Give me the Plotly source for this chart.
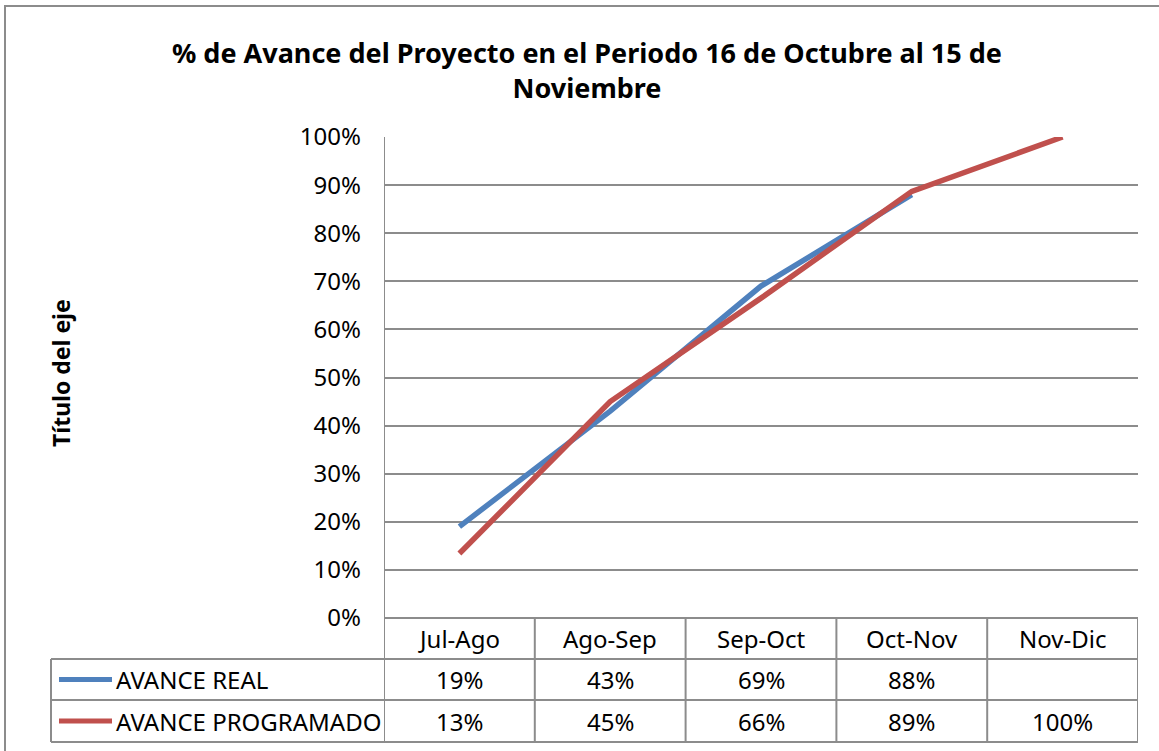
import plotly.graph_objects as go

# data
periodos = ["Jul-Ago", "Ago-Sep", "Sep-Oct", "Oct-Nov", "Nov-Dic"]
avance_real = [0.19, 0.43, 0.69, 0.88, None]
avance_programado = [0.134, 0.45, 0.665, 0.887, 1.00]
etiquetas_real = ["19%", "43%", "69%", "88%", ""]
etiquetas_programado = ["13%", "45%", "66%", "89%", "100%"]

titulo = "% de Avance del Proyecto en el Periodo 16 de Octubre al 15 de<br>Noviembre"
titulo_eje = "Título del eje"

W, H = 1159, 751
FONT = "Noto Sans, Open Sans, Liberation Sans, sans-serif"
GRID = "#8c8c8c"
AZUL = "#4F81BD"
ROJO = "#C0504D"


# pixel helpers for the layout (paper coords)
def px(x):
    return x / W


def py(y):
    return 1 - y / H


plot_l, plot_r, plot_t, plot_b = 384, 1138, 137, 618
row_lines = [618, 659, 700, 742]
table_l = 51
TXT = 24

fig = go.Figure()

series = [("AVANCE REAL", avance_real, AZUL, etiquetas_real),
          ("AVANCE PROGRAMADO", avance_programado, ROJO, etiquetas_programado)]

for name, vals, col, _ in series:
    fig.add_trace(go.Scatter(
        x=list(range(len(periodos))), y=vals,
        mode="lines", name=name,
        line=dict(color=col, width=5.5),
        connectgaps=False, showlegend=False,
    ))

shapes = []
annotations = []

# outer chart border
shapes.append(dict(type="rect", xref="paper", yref="paper",
                   x0=px(5), x1=px(W + 5), y0=py(H + 5), y1=py(6),
                   line=dict(color=GRID, width=2)))

# table horizontal lines
shapes.append(dict(type="line", xref="paper", yref="paper",
                   x0=px(plot_l), x1=px(plot_r), y0=py(row_lines[0]), y1=py(row_lines[0]),
                   line=dict(color=GRID, width=2)))
for yl in row_lines[1:]:
    shapes.append(dict(type="line", xref="paper", yref="paper",
                       x0=px(table_l), x1=px(plot_r), y0=py(yl), y1=py(yl),
                       line=dict(color=GRID, width=2)))
# table vertical lines (category boundaries)
for i in range(len(periodos) + 1):
    shapes.append(dict(type="line", xref="x", yref="paper",
                       x0=i - 0.5, x1=i - 0.5,
                       y0=py(row_lines[-1]), y1=py(plot_t if i == 0 else row_lines[0]),
                       line=dict(color=GRID, width=2)))
shapes.append(dict(type="line", xref="paper", yref="paper",
                   x0=px(table_l), x1=px(table_l), y0=py(row_lines[-1]), y1=py(row_lines[1]),
                   line=dict(color=GRID, width=2)))

# header row: category names
for i, p in enumerate(periodos):
    annotations.append(dict(x=i, y=py((row_lines[0] + row_lines[1]) / 2), xref="x", yref="paper",
                            xanchor="center", yanchor="middle",
                            text=p, showarrow=False, font=dict(size=TXT, color="black", family=FONT)))

# data rows with legend keys
for r, (name, vals, col, labs) in enumerate(series):
    yc = py((row_lines[r + 1] + row_lines[r + 2]) / 2)
    shapes.append(dict(type="line", xref="paper", yref="paper",
                       x0=px(59), x1=px(112), y0=yc, y1=yc,
                       line=dict(color=col, width=5)))
    annotations.append(dict(x=px(114), y=yc, xref="paper", yref="paper",
                            xanchor="left", yanchor="middle",
                            text=name, showarrow=False,
                            font=dict(size=TXT, color="black", family=FONT)))
    for i, t in enumerate(labs):
        annotations.append(dict(x=i, y=yc, xref="x", yref="paper",
                                xanchor="center", yanchor="middle",
                                text=t, showarrow=False,
                                font=dict(size=TXT, color="black", family=FONT)))

# y axis title
annotations.append(dict(x=px(61), y=py(373), xref="paper", yref="paper",
                        xanchor="center", yanchor="middle",
                        text="<b>" + titulo_eje + "</b>", textangle=-90, showarrow=False,
                        font=dict(size=23, color="black", family=FONT)))

# chart title
annotations.append(dict(x=px(587), y=py(70), xref="paper", yref="paper",
                        xanchor="center", yanchor="middle",
                        text="<b>" + titulo + "</b>", showarrow=False,
                        font=dict(size=27, color="black", family=FONT)))

fig.update_layout(
    width=W, height=H,
    margin=dict(l=0, r=0, t=0, b=0, autoexpand=False),
    paper_bgcolor="white", plot_bgcolor="white",
    xaxis=dict(domain=[px(plot_l), px(plot_r)], range=[-0.5, len(periodos) - 0.5],
               showticklabels=False, showgrid=False, zeroline=False, showline=False,
               automargin=False),
    yaxis=dict(domain=[py(plot_b), py(plot_t)], range=[0, 1], dtick=0.1, tickformat=".0%",
               showgrid=True, gridcolor=GRID, gridwidth=2, zeroline=False,
               showline=False, ticks="", ticklabelstandoff=22, automargin=False,
               tickfont=dict(size=TXT, color="black", family=FONT)),
    shapes=shapes,
    annotations=annotations,
)

fig.write_html("out.html", config={"displayModeBar": False},
               post_script="document.body.style.margin='0';")
